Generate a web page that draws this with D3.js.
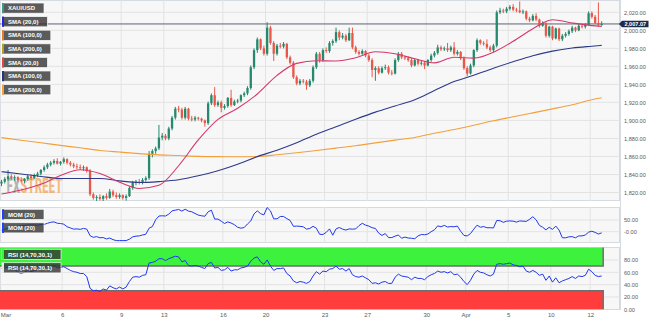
<!DOCTYPE html>
<html>
<head>
<meta charset="utf-8">
<script src="https://cdn.jsdelivr.net/npm/d3@7"></script>
<style>
  html, body { margin: 0; padding: 0; background: #fff; overflow: hidden; }
  svg { display: block; font-family: "Liberation Sans", Arial, sans-serif; }
</style>
</head>
<body>
<svg id="chart" width="656" height="323"></svg>
<script>
// XAU/USD, 4-hour candles from 1 March to 12 April
const open = [
  1830,1832,1835,1838,1836,1837,1834,1833,1835,1838,1836,1839,1841,1845,1848,1851,1853,1855,1852,1854,
  1857,1853,1851,1849,1848,1847,1848,1844,1818,1814,1815,1813,1816,1814,1821,1817,1815,1817,1814,1816,
  1825,1831,1832,1831,1834,1836,1863,1866,1869,1881,1883,1880,1891,1903,1913,1912,1903,1913,1902,1901,
  1903,1902,1900,1897,1919,1928,1917,1920,1914,1916,1925,1917,1921,1922,1928,1930,1936,1959,1978,1990,
  1980,1974,2003,1986,1974,1983,1982,1985,1970,1964,1948,1941,1944,1943,1939,1944,1959,1974,1967,1978,
  1977,1986,1988,1998,1992,1994,1989,1997,1981,1976,1974,1977,1972,1967,1956,1958,1953,1958,1959,1953,
  1952,1967,1974,1970,1969,1967,1961,1967,1963,1964,1961,1967,1972,1975,1981,1979,1980,1978,1981,1974,
  1976,1969,1958,1952,1961,1978,1989,1986,1985,1981,1978,1983,2020,2022,2021,2024,2026,2023,2022,2020,
  2021,2013,2011,2016,2012,2005,2008,1994,2004,1991,2002,1990,1994,1996,1999,2003,2000,2005,2004,2006,
  2019,2015,2008,2006
];
const high = [
  1834,1837,1845,1840,1839,1838,1837,1836,1840,1840,1841,1843,1846,1850,1853,1855,1857,1858,1855,1859,
  1858,1855,1853,1852,1851,1850,1849,1846,1820,1817,1818,1817,1819,1824,1823,1820,1819,1818,1818,1827,
  1833,1834,1835,1836,1838,1866,1868,1871,1895,1886,1885,1893,1905,1915,1916,1914,1915,1914,1905,1905,
  1904,1903,1901,1921,1930,1937,1922,1922,1918,1926,1934,1923,1924,1929,1932,1938,1961,1980,1992,1991,
  1983,2009,2005,1988,1985,1986,1987,1986,1972,1966,1950,1946,1946,1945,1946,1961,1976,1976,1980,1981,
  1988,1990,2003,2000,1997,1996,2003,2003,1983,1978,1979,1978,1974,1969,1960,1960,1960,1962,1961,1956,
  1969,1976,1976,1972,1971,1969,1969,1968,1966,1965,1968,1974,1977,1984,1983,1982,1986,1983,1987,1978,
  1977,1971,1960,1963,1979,1991,1990,1988,1990,1983,1985,2022,2025,2024,2026,2028,2029,2025,2032,2023,
  2022,2015,2018,2019,2013,2010,2009,2005,2005,2003,2003,1996,1998,2001,2005,2004,2007,2007,2008,2021,
  2021,2017,2031,2010
];
const low = [
  1827,1830,1833,1834,1833,1832,1831,1830,1833,1834,1835,1837,1839,1843,1846,1849,1851,1851,1850,1852,
  1851,1849,1847,1846,1845,1844,1842,1816,1812,1810,1811,1810,1812,1813,1815,1813,1813,1812,1811,1815,
  1823,1828,1829,1829,1832,1834,1859,1863,1867,1878,1878,1878,1889,1901,1909,1901,1901,1900,1899,1899,
  1900,1898,1893,1895,1917,1915,1915,1909,1912,1914,1915,1916,1919,1920,1926,1928,1934,1957,1975,1978,
  1972,1972,1984,1966,1972,1980,1980,1968,1962,1946,1939,1939,1941,1934,1937,1942,1957,1964,1965,1975,
  1975,1983,1986,1989,1990,1987,1988,1979,1974,1972,1973,1970,1965,1948,1944,1951,1952,1956,1951,1950,
  1951,1965,1968,1967,1965,1959,1960,1961,1961,1957,1960,1965,1970,1973,1977,1977,1976,1976,1972,1972,
  1967,1956,1949,1951,1959,1976,1984,1983,1979,1976,1976,1981,2018,2019,2019,2022,2021,2020,2019,2018,
  2011,2009,2010,2010,2003,2004,1992,1992,1989,1990,1988,1988,1992,1994,1997,1998,1999,2002,2002,2005,
  2013,2007,2004,2005
];
const close = [
  1832,1835,1838,1836,1837,1834,1833,1835,1838,1836,1839,1841,1845,1848,1851,1853,1855,1852,1854,1857,
  1853,1851,1849,1848,1847,1848,1844,1818,1814,1815,1813,1816,1814,1821,1817,1815,1817,1814,1816,1825,
  1831,1832,1831,1834,1836,1863,1866,1869,1881,1883,1880,1891,1903,1913,1912,1903,1913,1902,1901,1903,
  1902,1900,1897,1919,1928,1917,1920,1914,1916,1925,1917,1921,1922,1928,1930,1936,1959,1978,1990,1980,
  1974,2003,1986,1974,1983,1982,1985,1970,1964,1948,1941,1944,1943,1939,1944,1959,1974,1967,1978,1977,
  1986,1988,1998,1992,1994,1989,1997,1981,1976,1974,1977,1972,1967,1956,1958,1953,1958,1959,1953,1952,
  1967,1974,1970,1969,1967,1961,1967,1963,1964,1961,1967,1972,1975,1981,1979,1980,1978,1981,1974,1976,
  1969,1958,1952,1961,1978,1989,1986,1985,1981,1978,1983,2020,2022,2021,2024,2026,2023,2022,2020,2021,
  2013,2011,2016,2012,2005,2008,1994,2004,1991,2002,1990,1994,1996,1999,2003,2000,2005,2004,2006,2019,
  2015,2008,2006,2007.07
];

// Moving averages, one reading per trading day (candle index)
const smaIdx = [0,6,12,18,24,30,36,42,48,54,60,66,72,78,84,90,96,102,108,114,120,126,132,138,144,150,156,162,168,174,180,183];
const sma20 = [1818.3,1822.8,1829.2,1838.8,1845.2,1841,1831.4,1824.5,1828,1849.7,1878.3,1901.1,1913.5,1929.3,1950,1963.3,
  1966.2,1966,1969.5,1976.2,1974,1968.4,1963.9,1970.1,1969.1,1975.7,1987.8,2001.8,2011.8,2008.1,2005.2,2004.4];
const sma100 = [1843.1,1840.6,1837.8,1835.6,1835.6,1835.6,1832.9,1831.1,1832.1,1834.1,1838.5,1844.2,1851.4,1859.8,1866.9,1875.2,
  1884.7,1892.9,1901.3,1909.2,1916.1,1923,1933.2,1943.1,1950.2,1958,1965.1,1971.7,1976.9,1980.4,1982.4,1983.3];
const sma200 = [1880.9,1878,1875.2,1872.3,1869.6,1866.7,1864.9,1863.2,1861.8,1861,1860.1,1859.8,1859.7,1860,1861.9,1864.1,
  1866.6,1869.2,1871.9,1875.1,1878.1,1881.1,1885.8,1889.9,1894.7,1899.6,1904,1908.4,1912.8,1917.4,1923,1925.1];

// Momentum (20) per candle
const mom = [
  7,10,15,17,20,24,25,27,28,29,29,28,30,31,36,40,42,36,35,32,
  21,16,11,12,10,14,11,-17,-24,-21,-26,-25,-31,-27,-34,-38,-38,-38,-38,-32,
  -22,-19,-18,-14,-11,15,22,51,67,68,67,75,89,92,95,88,96,88,85,78,
  71,68,66,85,92,54,54,45,35,42,37,30,19,15,18,33,46,76,89,77,
  72,103,89,55,55,65,65,56,48,23,24,23,21,11,14,23,15,-11,-12,-3,
  12,-15,12,18,11,7,12,11,12,26,36,28,24,17,14,-6,-16,-8,-25,-25,
  -19,-14,-28,-23,-27,-28,-30,-18,-12,-13,-10,0,8,25,21,27,20,22,21,24,
  2,-16,-18,-8,11,28,19,22,17,17,16,48,47,40,45,46,45,41,46,45,
  44,53,64,51,27,19,8,19,10,24,7,-26,-26,-22,-21,-26,-18,-18,-14,-2,
  2,-3,-10,-5
];

// RSI (14) per candle
const rsi = [
  66,67,68,64,65,60,58,60,63,61,63,64,66,67,69,70,71,67,68,69,
  66,63,61,60,58,58,53,34,30,31,29,33,31,38,35,33,36,33,36,45,
  52,53,52,55,56,75,76,78,82,82,79,82,84,86,85,77,79,71,70,71,
  70,68,66,74,76,67,68,63,64,68,62,64,64,67,68,70,78,83,85,77,
  73,80,70,63,66,66,67,58,54,46,43,45,44,42,45,54,61,57,62,61,
  65,66,70,65,66,62,66,56,53,52,54,51,48,42,43,41,44,45,42,42,
  52,57,54,53,52,48,52,50,50,48,53,56,58,62,60,61,59,61,56,57,
  52,45,40,47,57,63,60,59,56,54,57,73,74,73,74,75,72,71,69,70,
  62,60,63,60,55,57,47,54,44,51,43,46,48,50,53,50,54,53,55,65,
  61,55,53,54
];

// Axis ticks
const dayIdx = [0,19,37,50,68,81,99,112,130,142,155,168,180];
const dayText = ["Mar","6","9","13","16","20","23","27","30","Apr","5","10","12"];
const priceTicks = [1820,1840,1860,1880,1900,1920,1940,1960,1980,2000,2020];
const momTicks = [0, 50];
const momTickText = ["-0.00", "50.00"];
const rsiTicks = [0, 20, 40, 60, 80];

const legendMain = ["XAU/USD","SMA (20,0)","SMA (100,0)","SMA (200,0)","SMA (20,0)","SMA (100,0)","SMA (200,0)"];
const legendMainColors = ["#3a9a88","#2424e0","#e8792a","#b3a12c","#e04848","#24347e","#f2a040"];

const svg = d3.select("#chart");
const N = close.length;
const plotW = 620;

const x = d3.scaleLinear().domain([0, N - 1]).range([1.5, 601.7]);
const yP = d3.scaleLinear().domain([1820, 2020]).range([192.5, 12.3]);
const yM = d3.scaleLinear().domain([0, 50]).range([231.7, 220]);
const yR = d3.scaleLinear().domain([0, 100]).range([309.3, 247.6]);

const panels = [
  { id: "clipMain", top: 0, bottom: 201 },
  { id: "clipMom", top: 207, bottom: 243 },
  { id: "clipRsi", top: 247, bottom: 310 }
];

const defs = svg.append("defs");
panels.forEach(p => {
  defs.append("clipPath").attr("id", p.id)
    .append("rect").attr("x", 0).attr("y", p.top)
    .attr("width", plotW).attr("height", p.bottom - p.top);
  svg.append("rect")
    .attr("x", 0.5).attr("y", p.top + 0.5)
    .attr("width", plotW - 1).attr("height", p.bottom - p.top - 1)
    .attr("fill", "#f7f7f7").attr("stroke", "#d6dae1").attr("stroke-width", 1);
  // vertical day grid
  svg.append("g").attr("clip-path", `url(#${p.id})`)
    .selectAll("line").data(dayIdx).join("line")
    .attr("x1", d => x(d - 0.5)).attr("x2", d => x(d - 0.5))
    .attr("y1", p.top).attr("y2", p.bottom)
    .attr("stroke", "#e3e3e3").attr("stroke-width", 1);
});

// horizontal grids
svg.append("g").selectAll("line").data(priceTicks).join("line")
  .attr("x1", 0).attr("x2", plotW).attr("y1", d => yP(d)).attr("y2", d => yP(d))
  .attr("stroke", "#e3e3e3");
svg.append("g").selectAll("line").data(momTicks).join("line")
  .attr("x1", 0).attr("x2", plotW).attr("y1", d => yM(d)).attr("y2", d => yM(d))
  .attr("stroke", "#e3e3e3");
svg.append("g").selectAll("line").data(rsiTicks.slice(1)).join("line")
  .attr("x1", 0).attr("x2", plotW).attr("y1", d => yR(d)).attr("y2", d => yR(d))
  .attr("stroke", "#e3e3e3");

// ---- main panel ----
const main = svg.append("g").attr("clip-path", "url(#clipMain)");

// FXSTREET watermark: one word, grey "FX" and orange "STREET" via a hard-stop gradient
const wmX = 6.5, wmW = 56, wmSplit = 14.3;
const grad = defs.append("linearGradient").attr("id", "wmFill")
  .attr("gradientUnits", "userSpaceOnUse")
  .attr("x1", wmX).attr("x2", wmX + wmW).attr("y1", 0).attr("y2", 0);
grad.append("stop").attr("offset", wmSplit / wmW).attr("stop-color", "#7c7c7c").attr("stop-opacity", 0.55);
grad.append("stop").attr("offset", wmSplit / wmW).attr("stop-color", "#f2a458").attr("stop-opacity", 0.75);
main.append("text").attr("x", wmX).attr("y", 193)
  .attr("font-size", 20).attr("font-weight", "bold")
  .attr("font-family", "'Liberation Sans Narrow','Roboto Condensed',Arial,sans-serif")
  .attr("textLength", wmW).attr("lengthAdjust", "spacingAndGlyphs")
  .attr("fill", "url(#wmFill)").text("FXSTREET");

// last price line
const last = close[N - 1];
main.append("line").attr("x1", 0).attr("x2", plotW)
  .attr("y1", yP(last)).attr("y2", yP(last))
  .attr("stroke", "#5d6373").attr("stroke-width", 1);

// candles
const up = "#26896d", down = "#e8584a";
const candles = main.append("g").selectAll("g").data(d3.range(N)).join("g");
candles.append("line")
  .attr("x1", i => x(i)).attr("x2", i => x(i))
  .attr("y1", i => yP(high[i])).attr("y2", i => yP(low[i]))
  .attr("stroke", i => close[i] >= open[i] ? up : down).attr("stroke-width", 1);
candles.append("rect")
  .attr("x", i => x(i) - 1.15).attr("width", 2.3)
  .attr("y", i => yP(Math.max(open[i], close[i])))
  .attr("height", i => Math.max(0.9, Math.abs(yP(open[i]) - yP(close[i]))))
  .attr("fill", i => close[i] >= open[i] ? up : down);

// moving averages
const smaLine = vals => d3.line()
  .x((d, k) => x(smaIdx[k])).y(d => yP(d))
  .curve(d3.curveMonotoneX)(vals);
main.append("path").attr("d", smaLine(sma200)).attr("fill", "none").attr("stroke", "#f2a03c").attr("stroke-width", 1.1);
main.append("path").attr("d", smaLine(sma100)).attr("fill", "none").attr("stroke", "#2d3a8a").attr("stroke-width", 1.1);
main.append("path").attr("d", smaLine(sma20)).attr("fill", "none").attr("stroke", "#d4386c").attr("stroke-width", 1.1);

// ---- momentum panel ----
svg.append("g").attr("clip-path", "url(#clipMom)")
  .append("path")
  .attr("d", d3.line().x((d, i) => x(i)).y(d => yM(d))(mom))
  .attr("fill", "none").attr("stroke", "#1f38f0").attr("stroke-width", 1);

// ---- RSI panel ----
const rsiG = svg.append("g").attr("clip-path", "url(#clipRsi)");
const zoneR = x(N - 1) + 1.5;
rsiG.append("rect").attr("x", 0).attr("y", yR(100)).attr("width", zoneR)
  .attr("height", yR(70) - yR(100)).attr("fill", "#3df23d");
rsiG.append("rect").attr("x", 0).attr("y", yR(30)).attr("width", zoneR)
  .attr("height", yR(0) - yR(30)).attr("fill", "#ff3d3d");
rsiG.append("path")
  .attr("d", `M0,${yR(70)}H${zoneR}V${yR(100)}M0,${yR(30)}H${zoneR}V${yR(0)}`)
  .attr("fill", "none").attr("stroke", "#6f6f6f").attr("stroke-width", 1.5);
rsiG.append("path")
  .attr("d", d3.line().x((d, i) => x(i)).y(d => yR(d))(rsi))
  .attr("fill", "none").attr("stroke", "#1f38f0").attr("stroke-width", 1);

// ---- axes ----
function styleAxis(g, size) {
  g.select(".domain").remove();
  g.selectAll(".tick line").remove();
  g.selectAll("text").attr("font-size", size).attr("fill", "#5a5a5a")
    .attr("font-family", "'Liberation Sans',Arial,sans-serif");
}
const fmt = d3.format(",.2f");
svg.append("g").attr("transform", "translate(622,0)")
  .call(d3.axisRight(yP).tickValues(priceTicks).tickFormat(fmt).tickSize(0).tickPadding(2))
  .call(g => styleAxis(g, 5.6));
svg.append("g").attr("transform", "translate(622,0)")
  .call(d3.axisRight(yM).tickValues(momTicks).tickFormat((d, k) => momTickText[k]).tickSize(0).tickPadding(2))
  .call(g => styleAxis(g, 5.6));
svg.append("g").attr("transform", "translate(622,0)")
  .call(d3.axisRight(yR).tickValues(rsiTicks).tickFormat(d3.format(".2f")).tickSize(0).tickPadding(2))
  .call(g => styleAxis(g, 5.6));
const xAxis = svg.append("g").attr("transform", "translate(0,313)")
  .call(d3.axisBottom(x).tickValues(dayIdx.map(d => d - 0.5)).tickFormat((d, k) => dayText[k]).tickSize(0).tickPadding(0))
  .call(g => styleAxis(g, 6));
xAxis.select(".tick text").attr("text-anchor", "start").attr("x", 0.5);

// right border of plotting area
svg.append("line").attr("x1", 620.5).attr("x2", 620.5).attr("y1", 0).attr("y2", 310)
  .attr("stroke", "#d6dae1");

// last price tag
const ty = yP(last);
svg.append("path")
  .attr("d", `M619,${ty}L622,${ty - 3.2}H648.5V${ty + 3.2}H622Z`)
  .attr("fill", "#1c2a4e");
svg.append("text").attr("x", 635.3).attr("y", ty + 2)
  .attr("text-anchor", "middle").attr("font-size", 5.6).attr("font-weight", "bold")
  .attr("fill", "#fff").text(fmt(last));

// ---- legend tags ----
function tag(top, label, marker) {
  const g = svg.append("g");
  const t = g.append("text").attr("x", 8).attr("y", top + 7.2)
    .attr("font-size", 6).attr("font-weight", "bold").attr("fill", "#fff").text(label);
  const w = t.node().getComputedTextLength();
  g.insert("rect", "text").attr("x", 2).attr("y", top).attr("width", w + 15).attr("height", 10.2)
    .attr("fill", "#333").attr("fill-opacity", 0.8)
    .attr("stroke", "#fff").attr("stroke-opacity", 0.85).attr("stroke-width", 0.8);
  g.insert("rect", "text").attr("x", 2).attr("y", top).attr("width", 2).attr("height", 10.2)
    .attr("fill", marker);
}
legendMain.forEach((s, k) => tag(3 + k * 13.6, s, legendMainColors[k]));
tag(209.3, "MOM (20)", "#2040ff");
tag(222.7, "MOM (20)", "#2040ff");
tag(249.3, "RSI (14,70,30,1)", "#3df23d");
tag(262.7, "RSI (14,70,30,1)", "#e8e8e8");
</script>
</body>
</html>
